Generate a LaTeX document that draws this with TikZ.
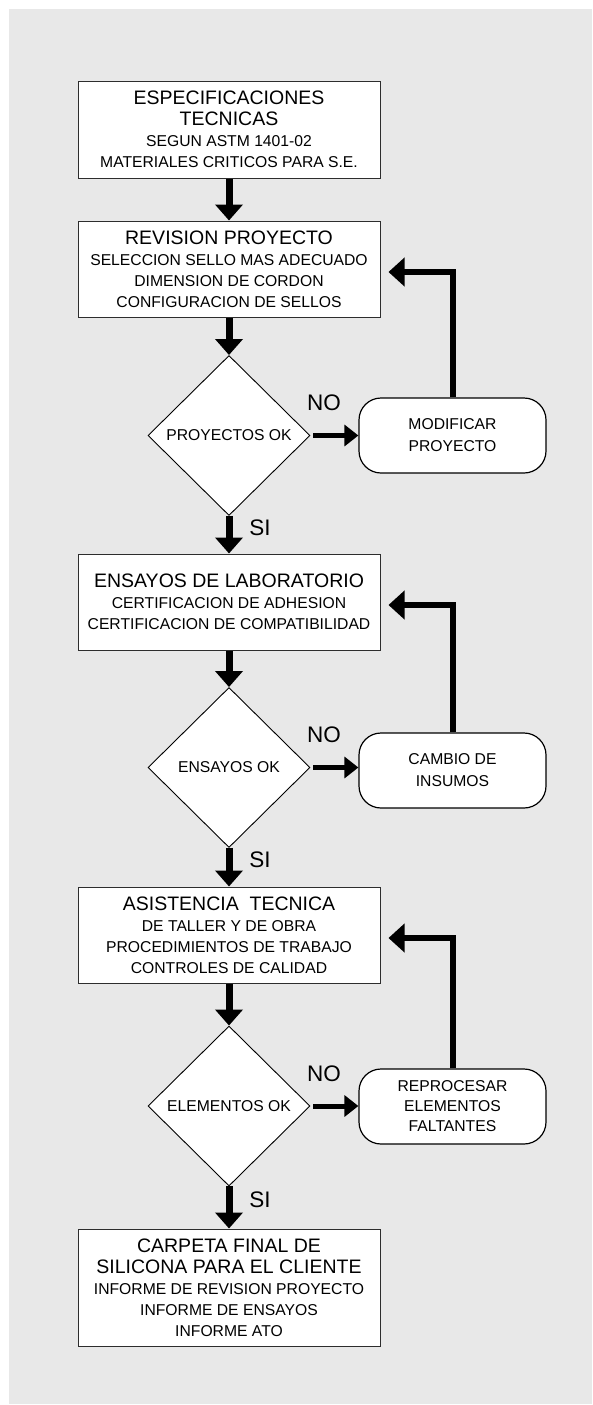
\documentclass[tikz,border=0pt]{standalone}
\usepackage{fontspec}
\setmainfont{Liberation Sans}
\usepackage{tikz}
\usetikzlibrary{positioning}
\usetikzlibrary{arrows.meta}
\usetikzlibrary{shapes.geometric}

\definecolor{fondo}{RGB}{232,232,232}
\definecolor{borde}{RGB}{45,45,45}
\newcommand{\grande}[1]{{\fontsize{19.5}{21}\selectfont #1}}

\tikzset{
proc/.style={draw=borde, line width=1pt, fill=white, minimum width=302pt, minimum height=96pt, inner sep=0pt, align=center, font=\fontsize{15.7}{21}\selectfont},
decis/.style={diamond, draw=black, line width=0.9pt, fill=white, minimum width=162pt, minimum height=160pt, inner sep=0pt, font=\fontsize{15.7}{19}\selectfont},
alt/.style={draw=black, line width=1.2pt, fill=white, rounded corners=22pt, minimum width=187pt, minimum height=75pt, inner sep=0pt, align=center, font=\fontsize{15.7}{22}\selectfont},
etiq/.style={font=\fontsize{22.5}{24}\selectfont},
flecha/.style={line width=7pt, -{Triangle[width=27pt,length=16pt]}},
flechano/.style={line width=5pt, -{Triangle[width=21pt,length=14pt]}, shorten <=3pt},
retorno/.style={line width=6pt, -{Triangle[width=28pt,length=16pt]}, shorten >=8pt}
}

\begin{document}
\begin{tikzpicture}[x=1pt,y=-1pt]
\useasboundingbox (0,0) rectangle (592,1405);
\fill[fondo] (9,9) rectangle (592,1404);

\node (esp) at (229,129.5) [proc, minimum height=97pt] {\grande{ESPECIFICACIONES}\\ \grande{TECNICAS}\\ SEGUN ASTM 1401-02\\ MATERIALES CRITICOS PARA S.E.};
\node (rev) at (229,269) [proc] {\grande{REVISION PROYECTO}\\ SELECCION SELLO MAS ADECUADO\\ DIMENSION DE CORDON\\ CONFIGURACION DE SELLOS};
\node (proyok) at (229,435.5) [decis] {PROYECTOS OK};
\node (modif) at (452.5,435.5) [alt] {MODIFICAR\\ PROYECTO};

\node (ensayos) at (229,602) [proc] {\grande{ENSAYOS DE LABORATORIO}\\ CERTIFICACION DE ADHESION\\ CERTIFICACION DE COMPATIBILIDAD};
\node (ensok) at (229,767.5) [decis] {ENSAYOS OK};
\node (cambio) at (452.5,770.5) [alt] {CAMBIO DE\\ INSUMOS};

\node (asist) at (229,935) [proc] {\grande{ASISTENCIA\ \ TECNICA}\\ DE TALLER Y DE OBRA\\ PROCEDIMIENTOS DE TRABAJO\\ CONTROLES DE CALIDAD};
\node (elemok) at (229,1106) [decis] {ELEMENTOS OK};
\node (repro) at (452.5,1106.5) [alt] {REPROCESAR\\[-2pt] ELEMENTOS\\[-2pt] FALTANTES};

\node (carpeta) at (229,1287.5) [proc, minimum height=117pt] {\grande{CARPETA FINAL DE}\\ \grande{SILICONA PARA EL CLIENTE}\\ INFORME DE REVISION PROYECTO\\ INFORME DE ENSAYOS\\ INFORME ATO};

\node (no1) at (324,403) [etiq] {NO};
\node (no2) at (324,735) [etiq] {NO};
\node (no3) at (324,1074) [etiq] {NO};
\node (si1) at (260,528) [etiq] {SI};
\node (si2) at (260,860) [etiq] {SI};
\node (si3) at (260,1200) [etiq] {SI};

\draw[flecha] (esp) -- (rev);
\draw[flecha] (rev) -- (proyok);
\draw[flecha] (proyok) -- (ensayos);
\draw[flecha] (ensayos) -- (ensok);
\draw[flecha] (ensok) -- (asist);
\draw[flecha] (asist) -- (elemok);
\draw[flecha] (elemok) -- (carpeta);

\draw[flechano] (proyok.east) -- (proyok.east -| modif.west);
\draw[flechano] (ensok.east) -- (ensok.east -| cambio.west);
\draw[flechano] (elemok.east) -- (elemok.east -| repro.west);

\draw[retorno] (modif.north) |- ([yshift=-3pt]rev.east);
\draw[retorno] (cambio.north) |- ([yshift=-3pt]ensayos.east);
\draw[retorno] (repro.north) |- ([yshift=-3pt]asist.east);

\end{tikzpicture}
\end{document}
